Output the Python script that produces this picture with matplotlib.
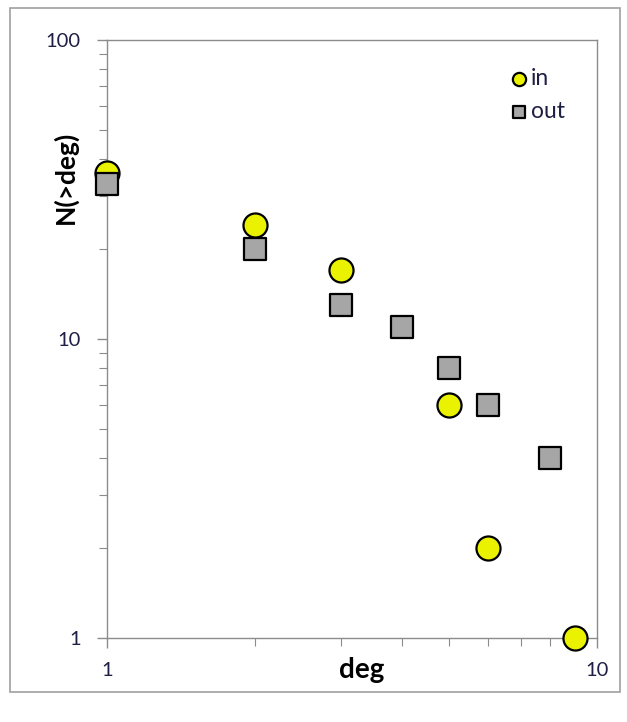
import numpy as np
import matplotlib.pyplot as plt
from matplotlib.patches import Rectangle
from matplotlib.ticker import LogLocator, NullFormatter, FixedLocator, FixedFormatter

plt.rcParams['font.family'] = ['Lato', 'DejaVu Sans']

deg_in = [1, 2, 3, 5, 6, 9]
n_in = [36, 24, 17, 6, 2, 1]
deg_out = [1, 2, 3, 4, 5, 6, 8]
n_out = [33, 20, 13, 11, 8, 6, 4]

fig = plt.figure(figsize=(6.27, 7.22), dpi=100)
# grey chart border like the Excel chart area
fig.patches.append(Rectangle((10 / 627, 30 / 722), 610 / 627, 684 / 722, transform=fig.transFigure,
                             fill=False, edgecolor='#a0a0a0', linewidth=1.2))
ax = fig.add_axes([107 / 627, 1 - 638 / 722, 490 / 627, 598 / 722])

ax.scatter(deg_in, n_in, s=300, marker='o', facecolor='#eaf200', edgecolor='black',
           linewidth=1.6, label='in', zorder=3, clip_on=False)
ax.scatter(deg_out, n_out, s=260, marker='s', facecolor='#a6a6a6', edgecolor='black',
           linewidth=1.6, label='out', zorder=4, clip_on=False)

ax.set_xscale('log')
ax.set_yscale('log')
ax.set_xlim(1, 10)
ax.set_ylim(1, 100)

ax.xaxis.set_major_locator(FixedLocator([1, 10]))
ax.xaxis.set_major_formatter(FixedFormatter(['1', '10']))
ax.yaxis.set_major_locator(FixedLocator([1, 10, 100]))
ax.yaxis.set_major_formatter(FixedFormatter(['1', '10', '100']))
ax.xaxis.set_minor_locator(LogLocator(base=10, subs=np.arange(2, 10)))
ax.yaxis.set_minor_locator(LogLocator(base=10, subs=np.arange(2, 10)))
ax.xaxis.set_minor_formatter(NullFormatter())
ax.yaxis.set_minor_formatter(NullFormatter())

for s in ax.spines.values():
    s.set_color('#8c8c8c')
    s.set_linewidth(1.0)
ax.tick_params(which='both', colors='#8c8c8c', labelcolor='#1f1f45', labelsize=14.5)
ax.tick_params(which='major', length=7, width=1)
ax.tick_params(which='minor', length=6, width=0.8)
ax.tick_params(axis='x', pad=10)
ax.tick_params(axis='y', pad=12)

ax.set_xlabel('deg', fontsize=20, fontweight='bold')
ax.xaxis.set_label_coords(0.52, -0.0535)
ax.xaxis.label.set_verticalalignment('center')
ax.set_ylabel('N(>deg)', fontsize=19, fontweight='bold')
ax.yaxis.set_label_coords(-0.086, 0.771)
ax.yaxis.label.set_verticalalignment('center')

leg = ax.legend(loc='upper left', bbox_to_anchor=(0.818, 0.953), frameon=False, fontsize=16.5,
                borderpad=0, borderaxespad=0, handletextpad=0.0, labelspacing=0.5,
                markerscale=0.55, handlelength=1.0)
for t in leg.get_texts():
    t.set_color('#1f1f45')

fig.savefig('out.png', dpi=100)
